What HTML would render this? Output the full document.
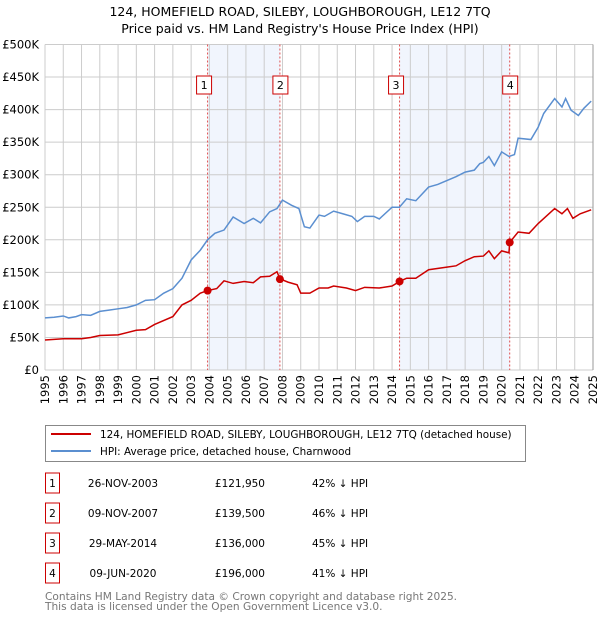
<!DOCTYPE html>
<html><head><meta charset="utf-8">
<style>
body{margin:0;background:#fff;font-family:"Liberation Sans","DejaVu Sans",sans-serif;}
svg text{font-family:"DejaVu Sans","Liberation Sans",sans-serif;}
</style></head>
<body>
<svg id="chart" width="600" height="620" xmlns="http://www.w3.org/2000/svg">
<text x="300" y="16" text-anchor="middle" font-size="12.5" fill="#000">124, HOMEFIELD ROAD, SILEBY, LOUGHBOROUGH, LE12 7TQ</text>
<text x="300" y="33" text-anchor="middle" font-size="12.5" fill="#000">Price paid vs. HM Land Registry's House Price Index (HPI)</text>
<g id="grid"></g><g id="marks"></g><g id="axes"></g>
<g>
<rect x="45.5" y="425.5" width="480" height="36" fill="#fff" stroke="#888"/>
<line x1="51" y1="434" x2="91" y2="434" stroke="#cc0000" stroke-width="2"/>
<text x="100" y="438" font-size="10.4">124, HOMEFIELD ROAD, SILEBY, LOUGHBOROUGH, LE12 7TQ (detached house)</text>
<line x1="51" y1="451" x2="91" y2="451" stroke="#5b8fd0" stroke-width="2"/>
<text x="100" y="455" font-size="10.4">HPI: Average price, detached house, Charnwood</text>
</g>
<g id="table"></g>
<text x="45" y="600" font-size="10.6" fill="#777">Contains HM Land Registry data © Crown copyright and database right 2025.</text>
<text x="45" y="610" font-size="10.6" fill="#777">This data is licensed under the Open Government Licence v3.0.</text>
</svg>
<script>
const hpiYears=[1995,1995.5,1996,1996.3,1996.7,1997,1997.5,1998,1998.5,1999,1999.5,2000,2000.5,2001,2001.5,2002,2002.5,2003,2003.5,2003.9,2004.3,2004.8,2005.3,2005.9,2006.4,2006.8,2007.3,2007.7,2008,2008.5,2008.9,2009.2,2009.5,2010,2010.3,2010.8,2011.3,2011.8,2012.1,2012.5,2013.0,2013.3,2014,2014.4,2014.8,2015.3,2016,2016.5,2017,2017.5,2018,2018.5,2018.8,2019,2019.3,2019.6,2020,2020.4,2020.7,2020.9,2021.6,2022,2022.3,2022.9,2023.3,2023.5,2023.8,2024.2,2024.5,2024.9];
const hpiValues=[80,81,83,80,82,85,84,90,92,94,96,100,107,108,118,125,141,169,184,200,210,215,235,225,233,226,243,248,261,253,248,220,218,238,236,244,240,236,228,236,236,232,250,250,263,260,281,285,291,297,304,307,317,319,328,314,335,328,331,356,354,373,394,417,404,417,399,391,402,413];
const priceYears=[1995,1996,1997,1997.5,1998,1999,2000,2000.5,2001,2002,2002.5,2003,2003.5,2003.9,2004.4,2004.8,2005.3,2005.9,2006.4,2006.8,2007.3,2007.7,2007.86,2008.3,2008.8,2009.0,2009.5,2010,2010.5,2010.8,2011.5,2012,2012.5,2013.3,2014,2014.41,2014.8,2015.3,2016,2017,2017.5,2018,2018.5,2019,2019.3,2019.6,2020,2020.4,2020.44,2020.9,2021.5,2022,2022.9,2023.3,2023.6,2023.9,2024.3,2024.9];
const priceValues=[46,48,48,50,53,54,61,62,70,82,100,107,118,122,125,137,133,136,134,143,144,151,140,135,131,118,118,126,126,129,126,122,127,126,129,136,141,141,154,158,160,168,174,175,183,171,183,180,196,212,210,225,248,240,248,233,240,246];
const saleYears=[2003.9,2007.86,2014.41,2020.44];
const saleValues=[121.95,139.5,136,196];
const saleLabels=["1","2","3","4"];
const saleDates=["26-NOV-2003","09-NOV-2007","29-MAY-2014","09-JUN-2020"];
const salePrices=["£121,950","£139,500","£136,000","£196,000"];
const salePcts=["42% ↓ HPI","46% ↓ HPI","45% ↓ HPI","41% ↓ HPI"];
const yTicks=[0,50,100,150,200,250,300,350,400,450,500];
const yTickLabels=["£0","£50K","£100K","£150K","£200K","£250K","£300K","£350K","£400K","£450K","£500K"];
const xTicks=[1995,1996,1997,1998,1999,2000,2001,2002,2003,2004,2005,2006,2007,2008,2009,2010,2011,2012,2013,2014,2015,2016,2017,2018,2019,2020,2021,2022,2023,2024,2025];

const X0=45,X1=593,Y0=370,Y1=44.5;
const x=v=>X0+(v-1995)/30*(X1-X0);
const y=v=>Y0-v/500*(Y0-Y1);
const NS="http://www.w3.org/2000/svg";
function mk(tag,attrs,parent,txt){const e=document.createElementNS(NS,tag);for(const k in attrs)e.setAttribute(k,attrs[k]);if(txt!==undefined)e.textContent=txt;parent.appendChild(e);return e;}
const grid=document.getElementById('grid'),marks=document.getElementById('marks'),axes=document.getElementById('axes'),table=document.getElementById('table');
mk('rect',{x:X0,y:Y1,width:X1-X0,height:Y0-Y1,fill:'#fff'},grid);
for(let i=0;i<saleYears.length;i+=2){
  const r=mk('rect',{x:x(saleYears[i]),y:Y1,width:x(saleYears[i+1])-x(saleYears[i]),height:Y0-Y1,fill:'#eef3fc',opacity:0.8},grid);
  
  
}
xTicks.forEach(t=>{
  const l=mk('line',{x1:x(t),x2:x(t),y1:Y1,y2:Y0,stroke:'#ccc','stroke-width':1},grid);
  
  
  const tx=mk('text',{x:0,y:0,transform:`translate(${x(t)+4},${Y0+5}) rotate(-90)`,'text-anchor':'end','font-size':11.5},axes,String(t));
  
  
});
yTicks.forEach((t,i)=>{
  const l=mk('line',{x1:X0,x2:X1,y1:y(t),y2:y(t),stroke:'#ccc','stroke-width':1},grid);
  
  
  const tx=mk('text',{x:X0-6,y:y(t)+4,'text-anchor':'end','font-size':11.5},axes,yTickLabels[i]);
  
  
});
mk('line',{x1:X1,x2:X1,y1:Y1,y2:Y0,stroke:'#999'},grid);
saleYears.forEach((s,i)=>{
  const l=mk('line',{x1:x(s),x2:x(s),y1:Y1,y2:Y0,stroke:'#e05050','stroke-dasharray':'2,2','stroke-width':1},marks);
  
  
  const b=mk('rect',{x:x(s)-7-(i%2==0?4:0),y:76,width:15,height:18,fill:'#fff',stroke:'#cc0000'},marks);
  
  
  mk('text',{x:x(s)+0.5-(i%2==0?4:0),y:89,'text-anchor':'middle','font-size':11},marks,saleLabels[i]);
});
const hp=mk('polyline',{points:hpiYears.map((t,i)=>x(t)+','+y(hpiValues[i])).join(' '),fill:'none',stroke:'#5b8fd0','stroke-width':1.5},marks);


const pp=mk('polyline',{points:priceYears.map((t,i)=>x(t)+','+y(priceValues[i])).join(' '),fill:'none',stroke:'#cc0000','stroke-width':1.5},marks);


saleYears.forEach((s,i)=>{
  const c=mk('circle',{cx:x(s),cy:y(saleValues[i]),r:4,fill:'#cc0000'},marks);
  
  
});
saleLabels.forEach((lab,i)=>{
  const cy=483+i*30;
  const b=mk('rect',{x:45.5,y:cy-10,width:14,height:20,fill:'#fff',stroke:'#cc0000'},table);
  
  
  mk('text',{x:52.5,y:cy+4,'text-anchor':'middle','font-size':10.5},table,lab);
  const d=mk('text',{x:123,y:cy+4,'text-anchor':'middle','font-size':10.5},table,saleDates[i]);
  
  
  const p=mk('text',{x:265,y:cy+4,'text-anchor':'end','font-size':10.5},table,salePrices[i]);
  
  
  const q=mk('text',{x:312,y:cy+4,'font-size':10.5},table,salePcts[i]);
  
  
});
</script>
</body></html>
